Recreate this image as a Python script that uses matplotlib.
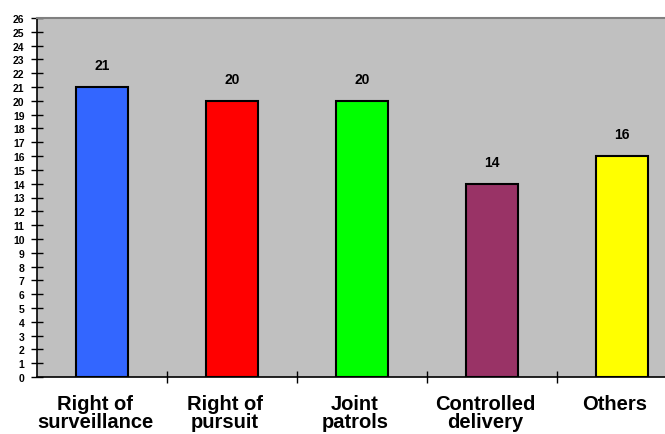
import matplotlib.pyplot as plt
import matplotlib.transforms as mtransforms
import numpy as np

plt.rcParams['font.family'] = ['Liberation Sans', 'DejaVu Sans']

categories = ["Right of\nsurveillance", "Right of\npursuit", "Joint\npatrols", "Controlled\ndelivery", "Others"]
values = [21, 20, 20, 14, 16]
colors = ["#3366FF", "#FF0000", "#00FF00", "#993366", "#FFFF00"]

fig = plt.figure(figsize=(6.65, 4.35), dpi=100)
ax = fig.add_axes([37/665, 1 - 378/435, 650/665, (378 - 19)/435])
ax.set_facecolor("#C0C0C0")

x = np.arange(len(categories))
ax.bar(x, values, width=0.4, color=colors, edgecolor="black", linewidth=1.5, zorder=3)
for xi, v in zip(x, values):
    ax.text(xi, v + 1.6, str(v), ha="center", va="center", fontsize=10, fontweight="bold")

ax.set_xlim(-0.5, 4.5)
ax.set_ylim(0, 26)
ax.set_yticks(range(27))
ax.set_yticklabels([str(i) for i in range(27)], fontsize=7.5, fontweight="bold")
ax.tick_params(axis="y", direction="inout", length=8, width=1, pad=5)

# category labels, separator ticks between them
ax.set_xticks(x)
ax.set_xticklabels(categories, fontsize=14.5, fontweight="bold", linespacing=0.95)
ax.tick_params(axis="x", length=0, pad=12)
shift = mtransforms.ScaledTranslation(-7/100, 0, fig.dpi_scale_trans)
for lab in ax.get_xticklabels():
    lab.set_transform(lab.get_transform() + shift)
ax.set_xticks(np.arange(0.5, 4.5, 1), minor=True)
ax.tick_params(axis="x", which="minor", direction="inout", length=9, width=1)

ax.spines["right"].set_visible(False)
ax.spines["top"].set_color("#808080")
ax.spines["top"].set_linewidth(1.5)
ax.spines["left"].set_linewidth(1.2)
ax.spines["bottom"].set_linewidth(1.2)

fig.savefig("out.png", dpi=100)
